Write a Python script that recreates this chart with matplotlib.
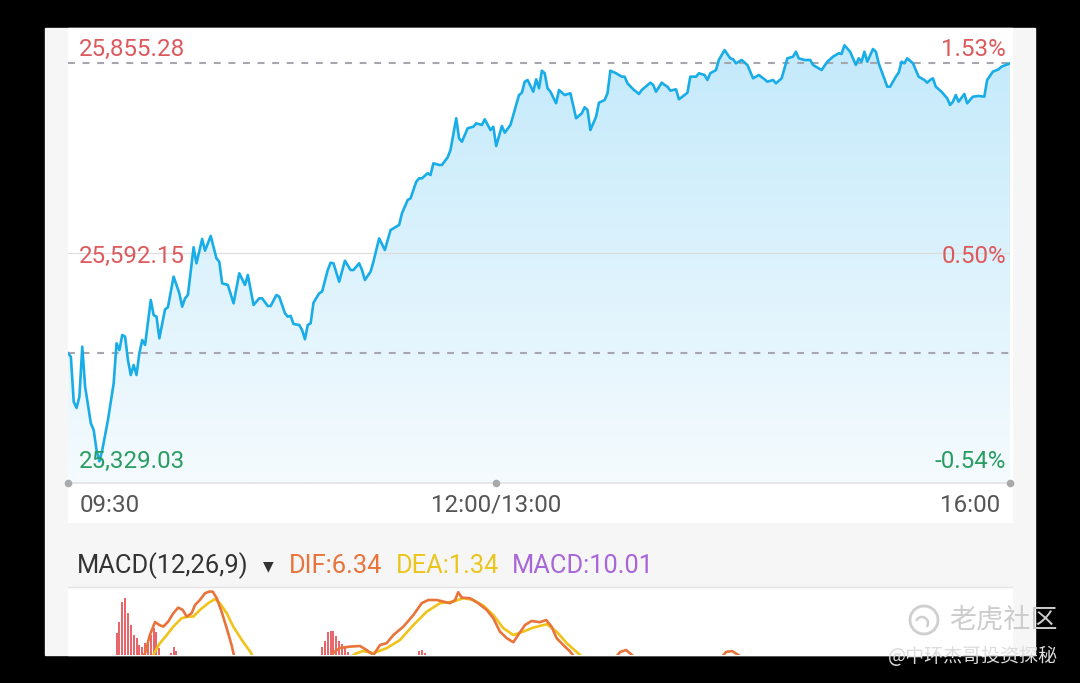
import numpy as np
import matplotlib
matplotlib.use('Agg')
import matplotlib.pyplot as plt
from matplotlib.patches import Rectangle, Circle, Arc, Polygon
from matplotlib.colors import LinearSegmentedColormap

plt.rcParams['font.family'] = ['Roboto', 'DejaVu Sans']

# trading minutes since 09:30 (lunch 12:00-13:00 removed) and index level
minutes = [0, 1, 2, 3, 4, 5, 6, 8, 9, 10, 11, 12, 14, 16, 17, 18, 19, 20, 21, 22,
           23, 24, 25, 26, 27, 29, 30, 31, 32, 34, 35, 37, 39, 40, 41, 42, 44, 45, 47, 48,
           50, 52, 53, 54, 56, 58, 60, 62, 63, 65, 67, 68, 70, 71, 73, 74, 76, 77, 78, 79,
           81, 82, 83, 84, 85, 86, 88, 89, 91, 92, 93, 95, 97, 99, 100, 102, 103, 104, 106, 107,
           109, 111, 113, 116, 117, 119, 120, 122, 123, 124, 126, 127, 128, 130, 131, 133, 134, 136, 137, 138,
           140, 142, 143, 145, 146, 148, 149, 150, 152, 153, 155, 156, 158, 159, 160, 161, 163, 164, 165, 166,
           167, 168, 169, 171, 172, 174, 176, 178, 180, 181, 182, 183, 185, 186, 188, 189, 190, 192, 194, 195,
           196, 198, 200, 201, 204, 205, 206, 208, 209, 210, 211, 213, 214, 216, 217, 218, 220, 221, 223, 224,
           225, 227, 228, 230, 232, 233, 234, 236, 238, 240, 242, 244, 245, 247, 248, 250, 252, 254, 255, 256,
           258, 260, 261, 263, 264, 266, 268, 270, 271, 272, 274, 276, 277, 278, 279, 280, 282, 283, 284, 287,
           288, 290, 291, 292, 293, 294, 296, 297, 298, 300, 301, 302, 303, 304, 306, 308, 309, 310, 311, 312,
           314, 315, 317, 319, 321, 322, 324, 326, 327, 330]
prices = [25465.7, 25461.4, 25404.4, 25396.5, 25410.8, 25474.0, 25423.4, 25377.1, 25368.6, 25343.3,
          25329.03, 25343.3, 25381.3, 25427.7, 25478.3, 25469.8, 25488.8, 25486.7, 25457.2, 25438.2,
          25450.9, 25438.2, 25465.7, 25482.5, 25476.2, 25533.1, 25514.1, 25512.0, 25484.6, 25521.3,
          25523.9, 25562.6, 25541.6, 25524.6, 25535.2, 25539.4, 25599.8, 25579.5, 25610.3, 25595.5,
          25614.1, 25585.8, 25581.5, 25554.2, 25552.1, 25528.9, 25566.9, 25552.1, 25564.7, 25526.8,
          25535.2, 25535.2, 25525.5, 25525.5, 25539.4, 25537.3, 25516.3, 25512.0, 25513.0, 25502.7,
          25501.5, 25495.1, 25483.4, 25501.5, 25503.6, 25529.7, 25541.6, 25543.6, 25571.0, 25580.3,
          25579.5, 25556.2, 25582.8, 25571.0, 25571.0, 25579.5, 25571.0, 25558.4, 25568.9, 25581.5,
          25611.1, 25596.3, 25621.6, 25628.0, 25642.8, 25659.6, 25661.7, 25682.7, 25687.0, 25687.0,
          25693.4, 25691.2, 25706.0, 25703.9, 25703.9, 25713.6, 25722.8, 25763.0, 25737.6, 25733.3,
          25750.3, 25752.3, 25756.6, 25754.5, 25761.7, 25748.1, 25752.3, 25727.9, 25753.2, 25744.7,
          25754.5, 25767.1, 25792.4, 25795.3, 25809.2, 25811.4, 25796.6, 25812.3, 25800.9, 25823.2,
          25819.9, 25800.9, 25796.6, 25781.9, 25798.7, 25792.4, 25794.6, 25763.0, 25769.3, 25776.9,
          25773.4, 25748.1, 25765.0, 25782.7, 25786.1, 25794.6, 25823.2, 25819.9, 25815.6, 25815.6,
          25807.2, 25799.6, 25793.7, 25798.7, 25808.0, 25805.1, 25796.6, 25808.0, 25805.1, 25802.9,
          25797.9, 25799.6, 25787.0, 25792.4, 25795.3, 25815.6, 25815.6, 25819.9, 25817.7, 25811.4,
          25819.9, 25824.0, 25836.7, 25849.3, 25838.8, 25837.6, 25832.5, 25836.7, 25830.4, 25813.5,
          25817.7, 25812.3, 25809.2, 25811.4, 25807.2, 25813.5, 25838.8, 25840.9, 25847.2, 25838.8,
          25836.7, 25836.7, 25830.4, 25826.2, 25824.0, 25834.5, 25840.9, 25845.2, 25844.3, 25855.28,
          25847.2, 25830.4, 25838.8, 25834.5, 25847.2, 25834.5, 25850.6, 25847.2, 25832.5, 25802.9,
          25802.9, 25815.6, 25820.6, 25834.5, 25832.5, 25838.8, 25832.5, 25824.0, 25815.6, 25811.4,
          25808.0, 25811.4, 25813.5, 25802.9, 25796.6, 25788.2, 25779.8, 25783.9, 25792.4, 25783.9,
          25793.7, 25781.9, 25790.3, 25791.2, 25790.3, 25811.4, 25821.9, 25824.9, 25828.2, 25832.5]

prev_close = 25466.0
y_labels = ['25,855.28', '25,592.15', '25,329.03']
pct_labels = ['1.53%', '0.50%', '-0.54%']
time_ticks = [0, 150, 330]
time_labels = ['09:30', '12:00/13:00', '16:00']

# MACD panel (only the upper part is visible in the screenshot)
dif_min = [0, 10, 20, 25.2, 27.0, 28.7, 30.5, 32.0, 33.4, 35.1, 36.9, 38.6, 40.2, 41.6, 43.3, 44.5,
           46.2, 48.0, 49.5, 50.7, 52.1, 53.8, 55.6, 57.3, 58.9, 75, 91.1, 93.2, 95.3, 98.8,
           102.3, 104.6, 107.0, 109.3, 111.6, 114.0, 117.5, 121.0, 123.9, 126.2, 129.2, 131.5, 133.8,
           135.6, 136.7, 137.9, 140.8, 143.7, 146.7, 149.0, 151.3, 153.7, 156.0, 157.7, 160.1, 162.4,
           165.3, 167.5, 169.4, 171.2, 173.5, 175.9, 178.7, 185, 190.6, 193.4, 195.5, 197.6, 199.0,
           212, 227.7, 230.5, 232.6, 235.4, 236.8, 260, 290, 330]
dif_val = [0.0, -18.0, -4.0, 4.5, 9.0, 18.0, 24.5, 23.0, 22.2, 24.7, 28.9, 31.7, 30.5, 27.2, 28.9, 33.0,
           35.5, 38.9, 39.7, 39.7, 36.4, 29.7, 21.4, 13.0, 3.0, -12.0, 4.5, 9.5, 11.5, 12.2,
           12.5, 10.5, 8.0, 13.0, 13.9, 18.0, 22.2, 28.0, 33.9, 35.5, 35.5, 34.7, 33.9,
           35.5, 39.4, 36.7, 36.4, 33.9, 30.5, 26.4, 19.7, 16.4, 14.4, 18.0, 23.0, 25.0,
           24.4, 25.5, 22.2, 16.4, 13.0, 9.7, 4.5, 2.0, 4.5, 9.5, 10.5, 8.0, 4.5,
           -2.0, 4.5, 9.5, 10.0, 7.5, 4.5, -6.0, 2.0, 6.34]
dea_min = [0, 15, 25, 28.7, 30.5, 32.2, 34.6, 36.9, 39.8, 42.1, 43.9, 46.2, 49.1, 51.5, 53.2, 55.6,
           57.9, 60.9, 63.8, 65.9, 80, 97.0, 100.5, 103.3, 107.0, 111.6, 116.3, 121.0, 125.7, 130.3,
           135.0, 138.5, 142.0, 145.5, 149.0, 152.5, 156.0, 159.5, 163.0, 167.7, 171.2, 174.7, 179.4,
           182.9, 230, 290, 330]
dea_val = [0.0, -8.0, -3.0, 4.5, 9.7, 13.9, 18.0, 22.2, 26.4, 27.2, 27.2, 30.5, 33.9, 36.0, 33.9, 28.9,
           22.2, 15.5, 9.7, 4.5, 0.5, 4.5, 8.5, 10.0, 8.9, 11.4, 15.5, 23.0, 29.7, 33.9,
           34.7, 36.4, 35.5, 32.7, 28.0, 21.4, 18.0, 19.7, 21.7, 23.4, 19.7, 13.9, 8.0,
           3.5, 2.0, 0.5, 1.34]
hist_min = [17, 18, 19, 20, 21, 22, 23, 24, 25, 26, 27, 28, 29, 30, 31, 32, 36, 37, 38,
            89, 90, 91, 92, 93, 94, 95, 96, 97, 98, 123, 124, 125]
hist_val = [18.8, 24.6, 34.6, 36.3, 29.0, 23.0, 18.0, 16.5, 13.0, 12.2, 13.8, 15.5, 18.0, 21.3, 19.6,
            11.3, 9.0, 12.0, 10.0, 12.0, 15.0, 19.5, 20.0, 20.0, 17.5, 15.0, 13.5, 11.5, 9.5,
            10.0, 10.5, 9.0]

W, H = 1080, 683
fig = plt.figure(figsize=(W / 100, H / 100), dpi=100, facecolor='black')

def frac(x0, y0, x1, y1):
    # pixel box (top-left origin) -> figure fraction [l, b, w, h]
    return [x0 / W, 1 - y1 / H, (x1 - x0) / W, (y1 - y0) / H]

# background (pixel coordinates)
bg = fig.add_axes([0, 0, 1, 1], zorder=0)
bg.set_xlim(0, W)
bg.set_ylim(H, 0)
bg.axis('off')
bg.add_patch(Rectangle((45, 28), 990, 627, color='#f6f6f6'))
bg.add_patch(Rectangle((68, 28), 944, 494, color='white'))
bg.add_patch(Rectangle((68, 588), 944, 67, color='white'))
bg.plot([68, 1012], [587, 587], color='#e4e4e4', lw=1)

# main price chart
ax = fig.add_axes(frac(68, 28, 1010, 483), zorder=2)
ax.set_facecolor('none')
ax.axis('off')
hi, lo = max(prices), min(prices)
span = hi - lo
ylo = lo - span * 21.7 / 416
yhi = hi + span * 17.3 / 416
ax.set_xlim(0, 330)
ax.set_ylim(ylo, yhi)

cmap = LinearSegmentedColormap.from_list('fill', ['#f5fbfe', '#c2e9fb'])
grad = np.linspace(0, 1, 256).reshape(-1, 1)
im = ax.imshow(grad, extent=[0, 330, ylo, yhi], origin='lower', aspect='auto', cmap=cmap, zorder=1)
clip = Polygon(list(zip(minutes, prices)) + [(minutes[-1], ylo), (minutes[0], ylo)],
               closed=True, transform=ax.transData, facecolor='none', edgecolor='none')
ax.add_patch(clip)
im.set_clip_path(clip)

ax.plot(minutes, prices, color='#19ade8', lw=1.9, zorder=3, solid_joinstyle='round')

mid = (hi + lo) / 2
ax.axhline(mid, color='#dddddd', lw=0.8, zorder=2)
ax.axhline(prices[-1], color='#a6a6ae', lw=1.5, dashes=(3.3, 3.7), zorder=2)
ax.axhline(prev_close, color='#a6a6ae', lw=1.5, dashes=(3.3, 3.7), zorder=2)
ax.axhline(ylo, color='#e3e3e3', lw=1.2, zorder=2, clip_on=False)
ax.scatter(time_ticks, [ylo] * len(time_ticks), s=20, color='#a9a9a9', zorder=4, clip_on=False)

red, green = '#dc5a5e', '#2a9d62'
for val, lab, pct, col, dy in zip([hi, mid, lo], y_labels, pct_labels, [red, red, green], [-4, -3, 0]):
    ax.annotate(lab, (0, val), xytext=(11, dy), textcoords='offset pixels',
                ha='left', va='center', color=col, fontsize=17.4, zorder=5)
    ax.annotate(pct, (330, val), xytext=(-4, dy), textcoords='offset pixels',
                ha='right', va='center', color=col, fontsize=17.4, zorder=5)

for t, lab, ha, dx in zip(time_ticks, time_labels, ['left', 'center', 'right'], [12, 0, -10]):
    ax.annotate(lab, (t, ylo), xytext=(dx, -22), textcoords='offset pixels',
                ha=ha, va='center', color='#555555', fontsize=17.4, annotation_clip=False)

# MACD header
hy = 1 - 566 / H
fig.text(77 / W, hy, 'MACD(12,26,9)', color='#333333', fontsize=18.4, va='center')
fig.text(268 / W, hy, '▼', color='#333333', fontsize=10, va='center', ha='center',
         family=['DejaVu Sans'])
fig.text(289 / W, hy, 'DIF:6.34', color='#e8743b', fontsize=18.4, va='center')
fig.text(396 / W, hy, 'DEA:1.34', color='#ecc51c', fontsize=18.4, va='center')
fig.text(512 / W, hy, 'MACD:10.01', color='#a866d8', fontsize=18.4, va='center')

# MACD panel
axm = fig.add_axes(frac(68, 588, 1010, 655), zorder=2)
axm.set_facecolor('none')
axm.axis('off')
axm.set_xlim(0, 330)
axm.set_ylim(8, 41.5)
axm.bar(hist_min, hist_val, width=0.7, color='#e8676d', zorder=1)
axm.plot(dea_min, dea_val, color='#f0c31a', lw=1.9, zorder=2)
axm.plot(dif_min, dif_val, color='#e8743b', lw=1.9, zorder=3)

# watermark
top = fig.add_axes([0, 0, 1, 1], zorder=10)
top.set_xlim(0, W)
top.set_ylim(H, 0)
top.axis('off')
top.add_patch(Circle((924, 620), 14, fill=False, ec='#cfcfcf', lw=2))
top.add_patch(Arc((922, 623), 12, 12, theta1=200, theta2=40, color='#cfcfcf', lw=1.8))
top.text(1058, 620, '老虎社区', color='#cccccc', fontsize=19.5, ha='right', va='center',
         family=['Noto Sans CJK SC'])
top.text(1058, 657, '@中环杰哥投资探秘', color='#dcdcdc', fontsize=13.7, ha='right', va='center',
         family=['Noto Sans CJK SC', 'DejaVu Sans'])

fig.savefig('out.png', dpi=100, facecolor='black')
